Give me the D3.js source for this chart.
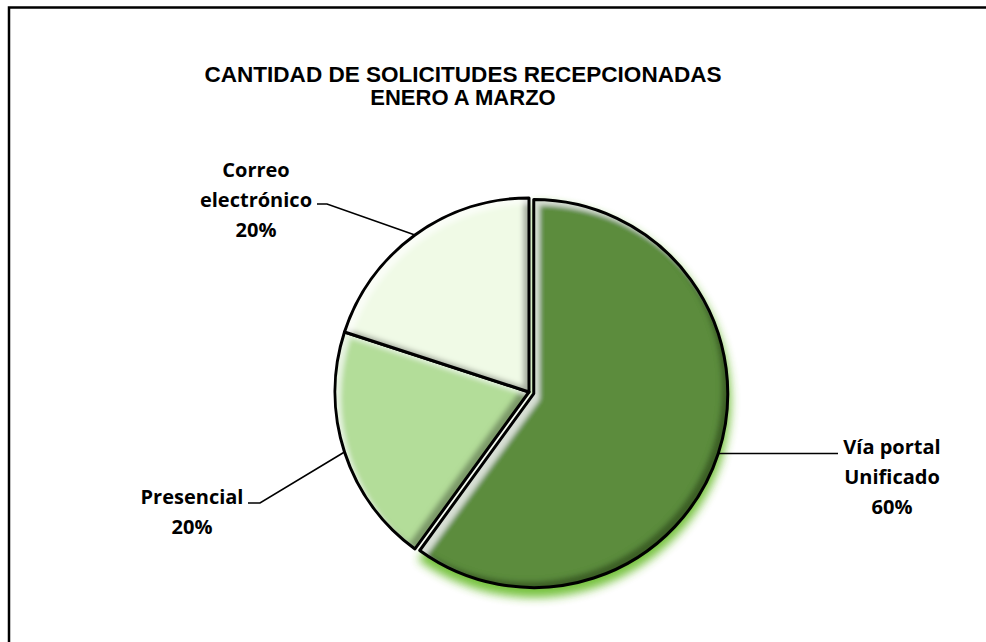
<!DOCTYPE html>
<html>
<head>
<meta charset="utf-8">
<script src="https://cdn.jsdelivr.net/npm/d3@7"></script>
<style>
  html, body { margin: 0; padding: 0; background: #fff; }
  svg { display: block; }
</style>
</head>
<body>
<div id="chart"></div>
<script>
// ---------- data ----------
const categories = ["Vía portal Unificado", "Presencial", "Correo electrónico"];
const labelLines = [["Vía portal", "Unificado"], ["Presencial"], ["Correo", "electrónico"]];
const values = [60, 20, 20];
const titleLines = ["CANTIDAD DE SOLICITUDES RECEPCIONADAS", "ENERO A MARZO"];

// ---------- styles / layout ----------
const palette = ["#5c8c3c", "#b3dd99", "#f0fae6"];
const W = 986, H = 642;
const cx = 529, cy = 392, R = 194;
const explode = [5, 0, 0];
// label layout: text centre x, first line centre y, elbow point, end of leader
const labelLayout = [
  { tx: 892, ty: 447, elbow: null,        end: [838, null] },
  { tx: 192, ty: 497, elbow: [260, 503],  end: [248, 503] },
  { tx: 256, ty: 170, elbow: [327, 204],  end: [317, 204] }
];
const lineH = 30;

const svg = d3.select("#chart").append("svg")
  .attr("width", W).attr("height", H);

svg.append("rect").attr("width", W).attr("height", H).attr("fill", "#fff");

// frame (right/bottom cut off)
svg.append("path")
  .attr("d", `M9,${H} L9,7.5 L${W},7.5`)
  .attr("fill", "none").attr("stroke", "#000").attr("stroke-width", 2.5);

const defs = svg.append("defs");

// bevel filter
const bev = defs.append("filter").attr("id", "bevel")
  .attr("x", "-10%").attr("y", "-10%").attr("width", "120%").attr("height", "120%");
bev.append("feOffset").attr("in", "SourceAlpha").attr("dx", -6).attr("dy", -6).attr("result", "offA");
bev.append("feGaussianBlur").attr("in", "offA").attr("stdDeviation", 2.5).attr("result", "offAB");
bev.append("feComposite").attr("in", "SourceAlpha").attr("in2", "offAB").attr("operator", "out").attr("result", "darkEdge");
bev.append("feFlood").attr("flood-color", "#000").attr("flood-opacity", 0.55).attr("result", "darkC");
bev.append("feComposite").attr("in", "darkC").attr("in2", "darkEdge").attr("operator", "in").attr("result", "dark");
bev.append("feOffset").attr("in", "SourceAlpha").attr("dx", 6).attr("dy", 6).attr("result", "offB");
bev.append("feGaussianBlur").attr("in", "offB").attr("stdDeviation", 2.5).attr("result", "offBB");
bev.append("feComposite").attr("in", "SourceAlpha").attr("in2", "offBB").attr("operator", "out").attr("result", "lightEdge");
bev.append("feFlood").attr("flood-color", "#fff").attr("flood-opacity", 0.65).attr("result", "lightC");
bev.append("feComposite").attr("in", "lightC").attr("in2", "lightEdge").attr("operator", "in").attr("result", "light");
const mg = bev.append("feMerge");
mg.append("feMergeNode").attr("in", "SourceGraphic");
mg.append("feMergeNode").attr("in", "dark");
mg.append("feMergeNode").attr("in", "light");

// glow filter
const glow = defs.append("filter").attr("id", "glow")
  .attr("x", "-20%").attr("y", "-20%").attr("width", "140%").attr("height", "140%");
glow.append("feGaussianBlur").attr("stdDeviation", 5);

const pie = d3.pie().sort(null).startAngle(0).endAngle(2 * Math.PI).value(d => d);
const arcs = pie(values);
const arc = d3.arc().innerRadius(0).outerRadius(R);
const total = d3.sum(values);

function offsetOf(d, i) {
  const a = (d.startAngle + d.endAngle) / 2;
  return [Math.sin(a) * explode[i], -Math.cos(a) * explode[i]];
}

// glow under big slice
arcs.forEach((d, i) => {
  if (i !== 0) return;
  const o = offsetOf(d, i);
  svg.append("path")
    .attr("d", d3.arc().innerRadius(0).outerRadius(R + 3)(d))
    .attr("transform", `translate(${cx + o[0]},${cy + o[1] + 7})`)
    .attr("fill", "#6fbf35").attr("opacity", 0.95)
    .attr("filter", "url(#glow)");
});

const slices = svg.selectAll("g.slice").data(arcs).join("g")
  .attr("class", "slice")
  .attr("transform", (d, i) => { const o = offsetOf(d, i); return `translate(${cx + o[0]},${cy + o[1]})`; });

slices.append("path")
  .attr("d", arc)
  .attr("fill", (d, i) => palette[i])
  .attr("filter", "url(#bevel)");

slices.append("path")
  .attr("d", arc)
  .attr("fill", "none")
  .attr("stroke", "#000")
  .attr("stroke-width", 3)
  .attr("stroke-linejoin", "round");

// leader lines + labels
arcs.forEach((d, i) => {
  const o = offsetOf(d, i);
  const a = (d.startAngle + d.endAngle) / 2;
  const sx = cx + o[0] + Math.sin(a) * R;
  const sy = cy + o[1] - Math.cos(a) * R;
  const L = labelLayout[i];
  const pts = [[sx, sy]];
  if (L.elbow) pts.push(L.elbow);
  pts.push([L.end[0], L.end[1] == null ? sy : L.end[1]]);
  svg.append("path")
    .attr("d", d3.line()(pts))
    .attr("fill", "none").attr("stroke", "#000").attr("stroke-width", 1.6);

  const lines = labelLines[i].concat([Math.round(values[i] / total * 100) + "%"]);
  const t = svg.append("text")
    .attr("text-anchor", "middle")
    .attr("font-family", "'Open Sans', Lato, sans-serif")
    .attr("font-weight", 700)
    .attr("font-size", 20)
    .attr("fill", "#000");
  lines.forEach((s, k) => {
    t.append("tspan").attr("x", L.tx).attr("y", L.ty + k * lineH).attr("dy", "0.36em").text(s);
  });
});

// title
titleLines.forEach((s, k) => {
  const t = svg.append("text")
    .attr("text-anchor", "middle")
    .attr("font-family", "'Liberation Sans', Arial, sans-serif")
    .attr("font-weight", 700)
    .attr("font-size", 22)
    .attr("fill", "#000")
    .attr("x", 463).attr("y", 74 + k * 23).attr("dy", "0.36em")
    .text(s);
  if (k === 0) t.attr("textLength", 517).attr("lengthAdjust", "spacingAndGlyphs");
});
</script>
</body>
</html>
